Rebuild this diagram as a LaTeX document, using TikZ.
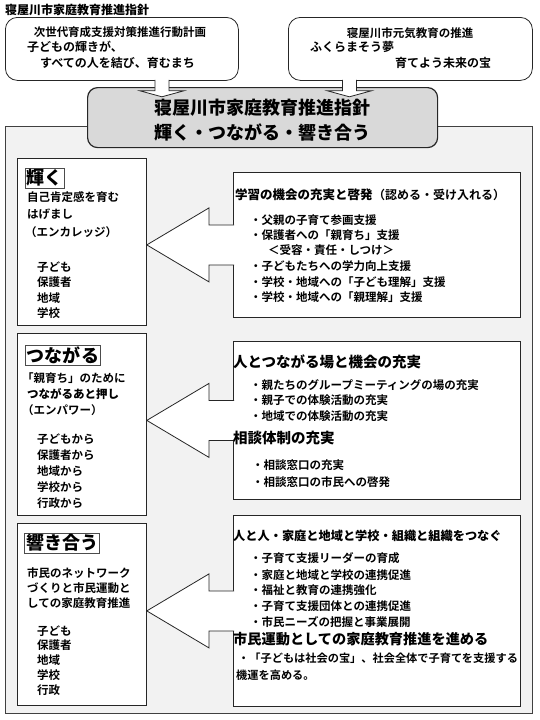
\documentclass[tikz,border=0pt]{standalone}
\usepackage{fontspec}
\setmainfont{Noto Sans CJK JP}[BoldFont={* Bold}]
\IfFontExistsTF{Noto Sans CJK JP Black}
  {\newfontfamily\heavyfont{Noto Sans CJK JP Black}}
  {\newfontfamily\heavyfont{Noto Sans CJK JP Bold}}
\usetikzlibrary{calc}

\begin{document}
\begin{tikzpicture}[x=1pt, y=-1pt,
  frame/.style={draw=black!85, line width=0.8pt, fill=white, anchor=north west, inner sep=0pt},
  txt/.style={anchor=west, inner sep=0pt, font=\fontsize{11.5}{13}\selectfont\bfseries},
  btxt/.style={anchor=west, inner sep=0pt, font=\fontsize{12}{14}\selectfont\bfseries},
  head/.style={anchor=west, inner sep=0pt, font=\fontsize{14.5}{16}\selectfont\heavyfont},
  titlebox/.style={draw=black!70, line width=0.6pt, fill=white, inner sep=1.5pt, font=\fontsize{18}{20}\selectfont\heavyfont},
  blk/.style={draw=black!85, line width=0.8pt, fill=white}]
\useasboundingbox (0,0) rectangle (540,720);

\node[anchor=west, inner sep=0pt, font=\fontsize{12}{14}\selectfont\heavyfont] (title) at (5,10) {寝屋川市家庭教育推進指針};

% outer frame
\node[frame, draw=black!75, fill=black!5, minimum width=527, minimum height=587] (outer) at (5,126) {};

% top boxes
\node[frame, rounded corners=12pt, minimum width=233, minimum height=63] (plan) at (5,17) {};
\node[frame, rounded corners=12pt, minimum width=244, minimum height=63] (genki) at (288,17) {};
\node[inner sep=0pt, font=\fontsize{11.5}{13}\selectfont\bfseries] (p1) at (120,32) {次世代育成支援対策推進行動計画};
\node[btxt] (p2) at (27,47) {子どもの輝きが、};
\node[btxt] (p3) at (40,63) {すべての人を結び、育むまち};
\node[inner sep=0pt, font=\fontsize{11.5}{13}\selectfont\bfseries] (q1) at (410,33) {寝屋川市元気教育の推進};
\node[btxt] (q2) at (310,47) {ふくらまそう夢};
\node[btxt] (q3) at (395,63) {育てよう未来の宝};

% main box
\node[frame, rounded corners=10pt, fill=black!15, line width=1.2pt, minimum width=350, minimum height=60] (shishin) at (87,87) {};
\node[inner sep=0pt, font=\fontsize{18}{20}\selectfont\heavyfont] (s1) at (262,108) {寝屋川市家庭教育推進指針};
\node[inner sep=0pt, font=\fontsize{18}{20}\selectfont\heavyfont] (s2) at (262,132) {輝く・つながる・響き合う};

% down arrows
\foreach \src/\dx in {plan/40, genki/-61}
  \filldraw[blk] ([xshift=\dx-7, yshift=1]\src.south) -- ++(0,11) -- ++(-15,0) -- ++(22,6) -- ++(22,-6) -- ++(-15,0) -- ++(0,-11);

% left boxes
\node[frame, minimum width=129, minimum height=167] (kagayaku) at (17,158) {};
\node[frame, minimum width=129, minimum height=182] (tsunagaru) at (17,333) {};
\node[frame, minimum width=129, minimum height=182] (hibiki) at (17,523) {};

% right boxes
\node[frame, minimum width=287, minimum height=145] (gakushu) at (233,172) {};
\node[frame, minimum width=287, minimum height=158] (ba) at (233,341) {};
\node[frame, minimum width=287, minimum height=191] (tsunagu) at (233,515) {};

% block arrows
\foreach \l/\r in {kagayaku/gakushu, tsunagaru/ba, hibiki/tsunagu}
  \filldraw[blk] ($(\r.west)+(1,-20)$) -- ++(-25,0) -- ++(0,-17) -- (\l.east |- \r.west) -- ($(\r.west)+(-24,37)$) -- ++(0,-17) -- ++(25,0);

% kagayaku
\node[titlebox] (k0) at (45,178) {輝く};
\node[txt] (k1) at (27,197) {自己肯定感を育む};
\node[txt] (k2) at (27,214) {はげまし};
\node[txt] (k3) at (25,232) {（エンカレッジ）};
\foreach \t [count=\i] in {子ども,保護者,地域,学校}
  \node[txt] (k-m\i) at (37,252+15.3*\i) {\t};

% tsunagaru
\node[titlebox] (n0) at (63,355) {つながる};
\node[txt] (n1) at (22,378) {「親育ち」のために};
\node[txt, font=\fontsize{11.5}{13}\selectfont\heavyfont] (n2) at (27,394) {つながるあと押し};
\node[txt] (n3) at (22,410) {（エンパワー）};
\foreach \t [count=\i] in {子どもから,保護者から,地域から,学校から,行政から}
  \node[txt] (n-m\i) at (37,423+16*\i) {\t};

% hibiki
\node[titlebox] (h0) at (62,543) {響き合う};
\node[txt] (h1) at (27,573) {市民のネットワーク};
\node[txt] (h2) at (27,588) {づくりと市民運動と};
\node[txt] (h3) at (27,603) {しての家庭教育推進};
\foreach \t [count=\i] in {子ども,保護者,地域,学校,行政}
  \node[txt] (h-m\i) at (37,616+14.8*\i) {\t};

% gakushu
\node[head, font=\fontsize{12.5}{14}\selectfont\heavyfont] (g0) at (235,195) {学習の機会の充実と啓発};
\node[txt, font=\fontsize{12}{14}\selectfont\bfseries] (g0b) at (g0.east) {（認める・受け入れる）};
\node[txt] (g1) at (250,220) {・父親の子育て参画支援};
\node[txt] (g2) at (250,235) {・保護者への「親育ち」支援};
\node[txt] (g3) at (268,250) {＜受容・責任・しつけ＞};
\node[txt] (g4) at (250,266) {・子どもたちへの学力向上支援};
\node[txt] (g5) at (250,282) {・学校・地域への「子ども理解」支援};
\node[txt] (g6) at (250,297) {・学校・地域への「親理解」支援};

% ba
\node[head] (b0) at (233,362) {人とつながる場と機会の充実};
\node[txt] (b1) at (250,385) {・親たちのグループミーティングの場の充実};
\node[txt] (b2) at (250,400) {・親子での体験活動の充実};
\node[txt] (b3) at (250,416) {・地域での体験活動の充実};
\node[head] (b4) at (233,438) {相談体制の充実};
\node[txt] (b5) at (252,465) {・相談窓口の充実};
\node[txt] (b6) at (252,482) {・相談窓口の市民への啓発};

% tsunagu
\node[head, font=\fontsize{12.2}{14}\selectfont\heavyfont] (c0) at (233,536) {人と人・家庭と地域と学校・組織と組織をつなぐ};
\node[txt] (c1) at (250,558) {・子育て支援リーダーの育成};
\node[txt] (c2) at (250,575) {・家庭と地域と学校の連携促進};
\node[txt] (c3) at (250,590) {・福祉と教育の連携強化};
\node[txt] (c4) at (250,606) {・子育て支援団体との連携促進};
\node[txt] (c5) at (250,622) {・市民ニーズの把握と事業展開};
\node[head, font=\fontsize{14.2}{16}\selectfont\heavyfont] (c6) at (233,639) {市民運動としての家庭教育推進を進める};
\node[txt, font=\fontsize{11.2}{13}\selectfont\bfseries] (c7) at (238,658) {・「子どもは社会の宝」、社会全体で子育てを支援する};
\node[txt, font=\fontsize{11.2}{13}\selectfont\bfseries] (c8) at (236,675) {機運を高める。};
\end{tikzpicture}
\end{document}
